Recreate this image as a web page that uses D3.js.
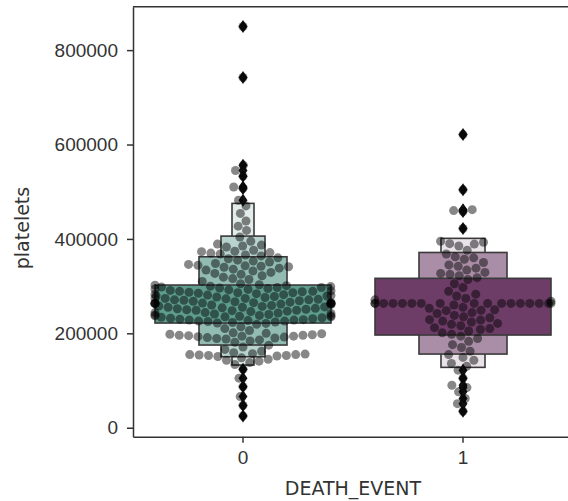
<!DOCTYPE html>
<html>
<head>
<meta charset="utf-8">
<script src="https://cdn.jsdelivr.net/npm/d3@7"></script>
<style>
  body { margin: 0; background: #fff; }
  svg { display: block; font-family: "DejaVu Sans", sans-serif; }
  .ejes text { font-size: 19px; fill: #333; }
  .ejes path, .ejes line { stroke: #333; stroke-width: 1.5; }
  .labels { font-size: 19px; fill: #333; }
</style>
</head>
<body>
<div id="graf"></div>
<script>
// categorías del eje x
const categorias = ["0", "1"]

// valores de plaquetas (DEATH_EVENT = 0)
const plaquetas0 = [
  850000, 742000, 556000, 545000, 533000, 510000, 507000, 482000,
  470000, 454000, 438000, 427000, 418000,
  404000, 395000, 389000, 387000, 385000, 383000, 376000, 374000, 373000, 371000, 370000, 368000, 366000, 364000,
  360000, 358000, 355000, 353000, 351000, 348000, 346000, 344000, 343000, 342000, 341000, 340000, 338000,
  336000, 334000, 332000, 329000, 327000, 325000, 322000, 319000, 316000, 314000, 310000, 305000,
  222000, 223000, 224000, 225000, 226000, 226000, 227000, 228000, 228000, 229000,
  230000, 231000, 232000, 233000, 234000, 235000, 235000, 236000, 237000, 237000,
  238000, 240000, 241000, 242000, 243000, 244000, 244000, 246000, 247000, 248000,
  249000, 249000, 250000, 252000, 253000, 254000, 255000, 255000, 257000, 258000,
  259000, 260000, 261000, 262000, 263000, 263000, 264000, 265000, 265000, 266000,
  267000, 268000, 269000, 270000, 271000, 271000, 272000, 274000, 274000, 275000,
  276000, 277000, 278000, 279000, 279000, 280000, 281000, 282000, 283000, 284000,
  285000, 286000, 287000, 288000, 289000, 289000, 290000, 291000, 292000, 293000,
  294000, 295000, 296000, 297000, 297000, 298000, 299000, 300000, 301000, 302000,
  239000, 251000, 256000, 273000, 286000, 303000,
  263358, 263358, 263358, 263358, 263358,
  175000, 181000, 184000, 186000, 188000, 189000, 190000, 191000, 192000, 193000, 194000, 194000, 195000,
  196000, 196000, 197000, 198000, 199000, 200000, 201000, 206000, 210000, 214000, 219000, 221000,
  151000, 152000, 153000, 153000, 154000, 155000, 155000, 156000, 157000, 159000, 162000, 166000, 171000,
  134000, 138000, 141000, 143000, 145000, 148000,
  25100, 47000, 66000, 87000, 105000, 124000
]

// valores de plaquetas (DEATH_EVENT = 1)
const plaquetas1 = [
  621000, 504000, 462000, 460000, 458000, 422000,
  395000, 393000, 390000, 389000, 385000, 376000,
  368000, 362000, 360000, 357000, 350000, 345000, 342000, 338000, 334000, 329000, 327000, 325000, 322000, 318000,
  314000, 305000, 297000, 289000, 283000, 279000, 274000, 271000, 268000,
  263358, 263358, 263358, 263358, 263358, 263358, 263358, 263358, 263358,
  263358, 263358, 263358, 263358, 263358, 263358, 263358, 263358,
  260000, 255000, 253000, 250000, 249000, 248000, 244000, 242000, 238000, 235000, 233000, 229000,
  228000, 226000, 224000, 221000, 219000, 216000, 212000, 210000, 208000, 205000, 201000, 198000,
  194000, 189000, 183000, 176000, 170000, 162000,
  155000, 149000, 143000, 136000, 130000,
  122000, 105000, 90000, 85000, 76000, 62000, 51000, 35000
]

// límites de las cajas (letter values), de la más ancha a la más estrecha
const cajaBaja0 = [221800, 175200, 150400, 132800]
const cajaAlta0 = [302300, 362200, 406000, 475300]
const cajaBaja1 = [196400, 156100, 127900]
const cajaAlta1 = [316500, 371300, 401200]

const ticksY = [0, 200000, 400000, 600000, 800000]

const grupos = [
  { cat: "0", vals: plaquetas0, bajo: cajaBaja0, alto: cajaAlta0, color: "#5e9c8e", luz: [0, 0.32, 0.56, 0.82] },
  { cat: "1", vals: plaquetas1, bajo: cajaBaja1, alto: cajaAlta1, color: "#6d3d68", luz: [0, 0.42, 0.85] }
]

const anchoTotal = 568
const altoTotal = 501
const margins = { left: 133, top: 6.7, right: -5, bottom: 64.3 }
const ancho = anchoTotal - margins.left - margins.right
const alto = altoTotal - margins.top - margins.bottom

const svg = d3.select("#graf").append("svg")
  .attr("width", anchoTotal)
  .attr("height", altoTotal)

const g = svg.append("g").attr("transform", `translate(${margins.left}, ${margins.top})`)

const x = d3.scaleBand().domain(categorias).range([0, ancho])
const y = d3.scaleLinear().domain([-19000, 892000]).range([alto, 0])

const anchoCaja = x.bandwidth() * 0.8
const diam = 9.4

// enjambre al estilo seaborn: se ordena por valor y se busca el hueco más cercano al centro
const enjambre = (vals, cx) => {
  const pts = vals.map((v) => ({ v, py: y(v) })).sort((a, b) => a.v - b.v)
  const puestos = []
  pts.forEach((p) => {
    const vecinos = puestos.filter((q) => Math.abs(q.py - p.py) < diam)
    const cands = [0]
    vecinos.forEach((q) => {
      const dx = Math.sqrt(diam * diam - (q.py - p.py) ** 2)
      cands.push(q.dx - dx, q.dx + dx)
    })
    cands.sort((a, b) => Math.abs(a) - Math.abs(b))
    p.dx = cands.find((c) =>
      vecinos.every((q) => (q.dx - c) ** 2 + (q.py - p.py) ** 2 >= diam * diam - 1e-6))
    puestos.push(p)
  })
  const mitad = anchoCaja / 2
  pts.forEach((p) => (p.px = cx + Math.max(-mitad, Math.min(mitad, p.dx))))
  return pts
}

grupos.forEach((gr) => {
  const cx = x(gr.cat) + x.bandwidth() / 2
  const k = gr.bajo.length
  // cajas: primero las estrechas, la ancha queda encima
  for (let i = k - 1; i >= 0; i--) {
    const w = anchoCaja / Math.pow(2, i)
    g.append("rect")
      .attr("x", cx - w / 2)
      .attr("y", y(gr.alto[i]))
      .attr("width", w)
      .attr("height", y(gr.bajo[i]) - y(gr.alto[i]))
      .attr("fill", d3.interpolateRgb(gr.color, "#fff")(gr.luz[i]))
      .attr("stroke", "#3a3a3a")
      .attr("stroke-width", 1.6)
  }
  // atípicos como diamantes
  const fuera = gr.vals.filter((v) => v < gr.bajo[k - 1] || v > gr.alto[k - 1])
  g.selectAll(null).data(fuera).enter()
    .append("path")
    .attr("d", "M0,-6.5L4.5,0L0,6.5L-4.5,0Z")
    .attr("transform", (d) => `translate(${cx}, ${y(d)})`)
    .attr("fill", "#111")

  g.selectAll(null).data(enjambre(gr.vals, cx)).enter()
    .append("circle")
    .attr("cx", (d) => d.px)
    .attr("cy", (d) => d.py)
    .attr("r", 4.5)
    .attr("fill", "#000")
    .attr("fill-opacity", 0.47)
})

// ejes
const xAxis = d3.axisBottom(x).tickSize(6).tickSizeOuter(0).tickPadding(8)
const yAxis = d3.axisLeft(y).tickValues(ticksY).tickFormat(d3.format("d")).tickSize(6).tickSizeOuter(0).tickPadding(9)

g.append("g").attr("class", "ejes").attr("transform", `translate(0, ${alto})`).call(xAxis)
g.append("g").attr("class", "ejes").call(yAxis)
g.append("line")
  .attr("x1", 0).attr("x2", ancho).attr("y1", 0).attr("y2", 0)
  .attr("stroke", "#333").attr("stroke-width", 1.5)

g.append("text")
  .attr("x", ancho / 2)
  .attr("y", alto + 58)
  .attr("text-anchor", "middle")
  .attr("class", "labels")
  .text("DEATH_EVENT")

g.append("text")
  .attr("transform", `translate(${29 - margins.left}, ${228 - margins.top}) rotate(-90)`)
  .attr("text-anchor", "middle")
  .attr("class", "labels")
  .text("platelets")
</script>
</body>
</html>
